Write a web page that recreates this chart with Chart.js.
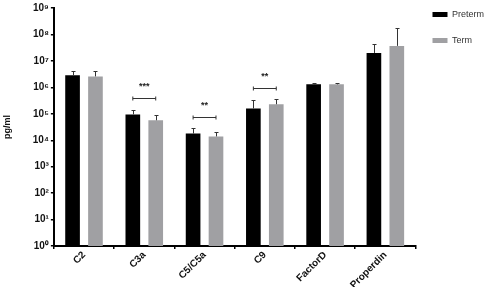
<!DOCTYPE html>
<html lang="en">
<head>
<meta charset="UTF-8">
<title>Complement levels</title>
<script src="https://cdn.jsdelivr.net/npm/chart.js"></script>
<style>
  html, body { margin: 0; padding: 0; background: #fff; }
  #wrap { width: 488px; height: 287px; position: relative; }
</style>
</head>
<body>
<div id="wrap"><canvas id="chart"></canvas></div>
<script>
const categories = ['C2', 'C3a', 'C5/C5a', 'C9', 'FactorD', 'Properdin'];
const preterm = [2.9e6, 9.5e4, 1.8e4, 1.6e5, 1.3e6, 2.0e7];
const pretermTop = [4.0e6, 1.35e5, 2.8e4, 3.3e5, 1.45e6, 4.4e7];
const term = [2.6e6, 5.7e4, 1.4e4, 2.3e5, 1.3e6, 3.7e7];
const termTop = [4.0e6, 8.7e4, 2.1e4, 3.6e5, 1.5e6, 1.8e8];
const tickValues = [1, 1e1, 1e2, 1e3, 1e4, 1e5, 1e6, 1e7, 1e8, 1e9];
const tickLabels = ['10⁰', '10¹', '10²', '10³', '10⁴', '10⁵', '10⁶', '10⁷', '10⁸', '10⁹'];
// significance brackets: category index, stars, bracket level
const sigIndex = [1, 2, 3];
const sigStars = ['***', '**', '**'];
const sigLevel = [3.9e5, 7.4e4, 9.3e5];

const errorBars = {
  id: 'errorBars',
  afterDatasetsDraw(chart) {
    const ctx = chart.ctx;
    const y = chart.scales.y;
    const tops = [pretermTop, termTop];
    ctx.save();
    ctx.strokeStyle = '#333';
    ctx.lineWidth = 1;
    tops.forEach((arr, di) => {
      chart.getDatasetMeta(di).data.forEach((bar, i) => {
        const yt = Math.round(y.getPixelForValue(arr[i])) + 0.5;
        const x = Math.round(bar.x) + 0.5;
        ctx.beginPath();
        ctx.moveTo(x, bar.y);
        ctx.lineTo(x, yt);
        ctx.moveTo(x - 2, yt);
        ctx.lineTo(x + 2, yt);
        ctx.stroke();
      });
    });
    // significance markers
    ctx.fillStyle = '#222';
    ctx.font = 'bold 9px Arial, "Liberation Sans", sans-serif';
    ctx.textAlign = 'center';
    ctx.textBaseline = 'bottom';
    sigIndex.forEach((ci, k) => {
      const a = chart.getDatasetMeta(0).data[ci].x;
      const b = chart.getDatasetMeta(1).data[ci].x;
      const yy = Math.round(y.getPixelForValue(sigLevel[k])) + 0.5;
      ctx.beginPath();
      ctx.moveTo(a, yy - 2); ctx.lineTo(a, yy + 2);
      ctx.moveTo(a, yy); ctx.lineTo(b, yy);
      ctx.moveTo(b, yy - 2); ctx.lineTo(b, yy + 2);
      ctx.stroke();
      ctx.fillText(sigStars[k], (a + b) / 2, yy - 7);
    });
    ctx.restore();
  }
};

// lift the legend up to sit near the top edge
const legendShift = {
  id: 'legendShift',
  afterLayout(chart) {
    if (chart.legend) chart.legend.top -= 7;
  }
};

const font = { family: 'Arial, "Liberation Sans", sans-serif', size: 10, weight: 'bold' };

new Chart(document.getElementById('chart'), {
  type: 'bar',
  data: {
    labels: categories,
    datasets: [
      { label: 'Preterm', data: preterm, backgroundColor: '#000000' },
      { label: 'Term', data: term, backgroundColor: '#a0a0a3' }
    ]
  },
  options: {
    responsive: true,
    maintainAspectRatio: false,
    animation: false,
    categoryPercentage: 0.76,
    barPercentage: 0.64,
    layout: { padding: { top: 0, left: 2, right: -6, bottom: -4 } },
    plugins: {
      tooltip: { enabled: false },
      legend: {
        position: 'right',
        align: 'start',
        labels: {
          boxWidth: 15,
          boxHeight: 5,
          padding: 17,
          color: '#333',
          font: { family: 'Arial, "Liberation Sans", sans-serif', size: 9 }
        }
      }
    },
    scales: {
      x: {
        border: { color: '#000', width: 2 },
        grid: { drawOnChartArea: false, drawTicks: true, tickLength: 3, color: '#000', lineWidth: 1.5 },
        ticks: {
          color: '#111',
          font: font,
          minRotation: 45,
          maxRotation: 45,
          padding: 0
        }
      },
      y: {
        type: 'logarithmic',
        min: 1,
        max: 1e9,
        border: { color: '#000', width: 2 },
        grid: { drawOnChartArea: false, drawTicks: true, tickLength: 3, color: '#000', lineWidth: 1.5 },
        afterBuildTicks: scale => { scale.ticks = tickValues.map(v => ({ value: v })); },
        ticks: {
          color: '#111',
          font: font,
          padding: 2,
          callback: (v) => tickLabels[tickValues.indexOf(v)]
        },
        title: {
          display: true,
          text: 'pg/ml',
          color: '#111',
          font: { family: 'Arial, "Liberation Sans", sans-serif', size: 9, weight: 'bold' },
          padding: { top: 0, bottom: 18 }
        }
      }
    }
  },
  plugins: [errorBars, legendShift]
});
</script>
</body>
</html>
